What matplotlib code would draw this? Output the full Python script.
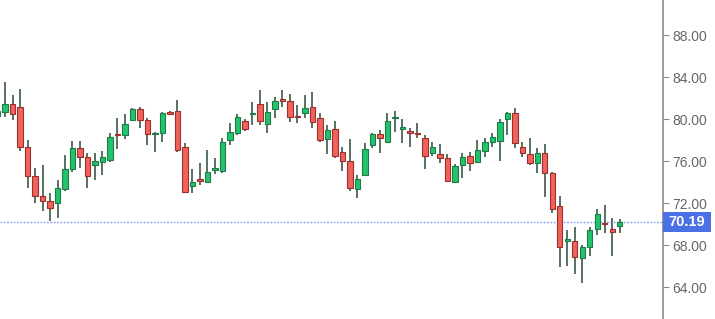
import numpy as np
import matplotlib
matplotlib.use("Agg")
import matplotlib.pyplot as plt
from matplotlib.patches import Rectangle
import matplotlib.transforms as mtransforms

plt.rcParams['font.family'] = ['Liberation Sans', 'DejaVu Sans']

# daily OHLC (first candle is cut by the left edge)
opens = [80.3, 80.7, 81.4, 81.2, 77.4, 74.6, 72.7, 72.2, 72.0, 73.4,
         75.3, 77.3, 76.4, 75.6, 75.9, 76.1, 78.6, 78.5, 79.9, 81.0,
         79.9, 78.6, 78.7, 80.7, 80.8, 77.4, 73.6, 74.3, 74.0, 75.2,
         75.1, 78.0, 78.7, 79.8, 80.5, 81.4, 79.5, 81.0, 81.9, 81.7,
         80.3, 80.6, 81.2, 80.1, 78.1, 79.1, 76.9, 76.0, 73.4, 74.7,
         77.5, 78.6, 77.8, 80.1, 79.1, 78.9, 78.7, 78.2, 76.8, 76.7,
         76.3, 74.0, 75.6, 76.5, 75.9, 77.0, 77.8, 77.9, 80.0, 80.6,
         77.4, 76.7, 75.8, 76.8, 74.9, 71.7, 68.4, 68.4, 66.8, 67.8,
         69.6, 70.1, 69.6, 69.8]
highs = [81.0, 83.5, 82.3, 82.9, 78.0, 75.4, 75.6, 73.0, 74.2, 76.6,
         77.9, 77.9, 76.8, 76.8, 77.0, 78.7, 80.1, 80.5, 81.1, 81.2,
         80.1, 78.8, 80.7, 80.8, 81.8, 77.7, 75.3, 75.8, 77.1, 76.3,
         78.2, 79.6, 80.5, 80.0, 81.6, 82.8, 81.6, 82.1, 82.8, 82.4,
         81.3, 82.3, 82.6, 80.6, 79.4, 79.8, 77.4, 78.1, 74.7, 77.7,
         78.7, 79.0, 80.6, 80.8, 80.0, 79.2, 79.6, 78.5, 77.8, 77.6,
         76.7, 75.7, 76.8, 76.9, 78.0, 78.2, 78.7, 80.0, 80.7, 81.1,
         77.8, 78.2, 77.3, 77.6, 75.0, 72.7, 69.5, 69.7, 68.0, 69.7,
         71.5, 71.8, 70.6, 70.5]
lows = [79.0, 80.2, 79.9, 77.0, 73.5, 72.0, 71.3, 70.3, 70.6, 73.2,
        75.0, 75.4, 73.5, 74.2, 74.7, 75.9, 77.2, 78.1, 79.9, 79.2,
        77.5, 76.9, 77.8, 80.5, 76.9, 73.1, 73.0, 73.7, 73.9, 74.8,
        74.9, 77.5, 78.5, 78.9, 79.4, 79.4, 78.7, 80.1, 81.2, 79.7,
        79.6, 80.1, 79.2, 77.8, 76.7, 76.3, 75.1, 73.2, 72.5, 74.6,
        77.3, 76.8, 77.7, 78.8, 77.7, 77.4, 78.2, 75.3, 76.5, 75.8,
        74.0, 73.9, 74.4, 75.1, 75.8, 76.4, 77.4, 76.0, 78.5, 77.3,
        76.4, 75.6, 74.9, 72.6, 71.1, 65.9, 66.0, 65.3, 64.4, 67.0,
        69.0, 69.2, 67.0, 69.2]
closes = [80.8, 81.4, 80.5, 77.4, 74.6, 72.7, 72.2, 71.6, 73.5, 75.3,
          77.3, 76.4, 74.6, 76.0, 76.4, 78.3, 78.5, 79.5, 81.0, 79.9,
          78.6, 78.7, 80.6, 80.5, 77.1, 73.1, 74.0, 74.1, 75.0, 75.4,
          77.8, 78.8, 80.2, 79.1, 80.6, 79.8, 80.7, 81.7, 81.7, 80.2,
          80.2, 81.1, 79.7, 78.0, 79.0, 76.5, 76.0, 73.5, 74.3, 77.2,
          78.6, 78.2, 79.8, 80.2, 79.1, 78.7, 78.6, 76.5, 77.4, 76.3,
          74.1, 75.5, 76.4, 75.8, 77.1, 77.8, 78.3, 79.7, 80.6, 77.7,
          76.8, 75.8, 76.8, 74.9, 71.5, 67.8, 68.6, 66.9, 67.8, 69.5,
          71.0, 70.05, 69.3, 70.19]

last_price = 70.19
tick_values = [64, 68, 72, 76, 80, 84, 88]

up_face, up_edge = '#22c36b', '#1d7c48'
dn_face, dn_edge = '#f0625b', '#9a2f2b'
wick_col = '#4a6655'

W, H = 715, 319
fig = plt.figure(figsize=(W / 100, H / 100), dpi=100)
axis_x = 662.5
ax = fig.add_axes([0, 0, axis_x / W, 1])

o = np.array(opens)
h = np.array(highs)
l = np.array(lows)
c = np.array(closes)
idx = np.arange(len(o))
up = c >= o

ax.vlines(idx, l, h, color=wick_col, lw=1.3, zorder=2)
bottoms = np.minimum(o, c)
heights = np.maximum(np.abs(c - o), 0.12)
ax.bar(idx[up], heights[up], bottom=bottoms[up], width=0.72,
       color=up_face, edgecolor=up_edge, linewidth=0.8, zorder=3)
ax.bar(idx[~up], heights[~up], bottom=bottoms[~up], width=0.72,
       color=dn_face, edgecolor=dn_edge, linewidth=0.8, zorder=3)

ax.axhline(last_price, color='#7f9cf2', lw=1.0, ls=(0, (1.2, 1.2)), zorder=1)

ax.set_xlim(0.33, 88.7)
ax.set_ylim(61.0, 91.33)

for s in ['top', 'left', 'bottom']:
    ax.spines[s].set_visible(False)
ax.spines['right'].set_color('#8a8a8a')
ax.spines['right'].set_linewidth(1.2)
ax.set_xticks([])
ax.yaxis.tick_right()
ax.set_yticks(tick_values)
ax.set_yticklabels([f'{v:.2f}' for v in tick_values])
ax.tick_params(axis='y', direction='out', length=4, width=0.8, colors='#8a8a8a',
               labelcolor='#666666', labelsize=10, pad=3)

# current price tag on the axis
trans = mtransforms.blended_transform_factory(fig.transFigure, ax.transData)
fig.patches.append(Rectangle((663 / W, last_price - 0.95), 48 / W, 1.9,
                             transform=trans, facecolor='#4a70e6',
                             edgecolor='none', zorder=5))
fig.text(687 / W, last_price, f'{last_price:.2f}', transform=trans,
         color='white', fontsize=10.5, fontweight='bold',
         ha='center', va='center', zorder=6)

fig.savefig('out.png', dpi=100)
